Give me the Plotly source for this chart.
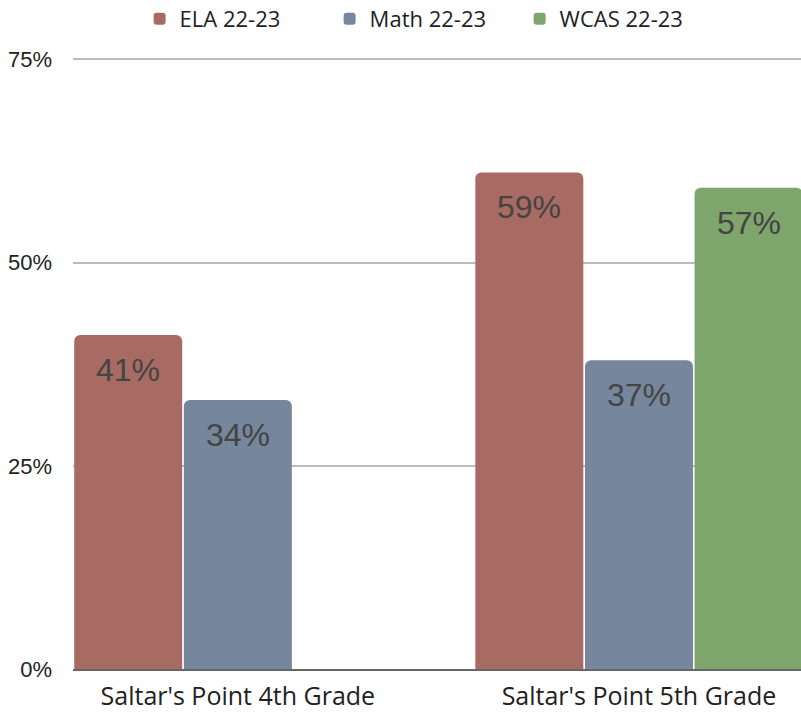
import plotly.graph_objects as go

categories = ["Saltar's Point 4th Grade", "Saltar's Point 5th Grade"]
series_names = ["ELA 22-23", "Math 22-23", "WCAS 22-23"]
# bar heights (percent)
ela_values = [41.1, 61.1]
math_values = [33.1, 38.0]
wcas_values = [None, 59.2]
# printed labels
ela_labels = ["41%", "59%"]
math_labels = ["34%", "37%"]
wcas_labels = [None, "57%"]
y_ticks = [0, 25, 50, 75]
y_tick_labels = ["0%", "25%", "50%", "75%"]

colors = ["#a86b63", "#76869d", "#7da56c"]
series_values = [ela_values, math_values, wcas_values]
series_labels = [ela_labels, math_labels, wcas_labels]

fig = go.Figure()
for name, vals, col in zip(series_names, series_values, colors):
    fig.add_trace(go.Bar(x=categories, y=vals, name=name, marker=dict(color=col, line=dict(width=0))))

annotations = []
for i, (vals, labs) in enumerate(zip(series_values, series_labels)):
    for cat, v, lab in zip(categories, vals, labs):
        if v is None:
            continue
        annotations.append(dict(x=cat, y=v, xref="x", yref="y", text=lab, showarrow=False,
                                xshift=(i - 1) * 110, yshift=-35, yanchor="middle",
                                font=dict(family="Liberation Sans", size=32, color="#444444")))

fig.update_layout(
    width=801, height=717,
    margin=dict(l=73, r=0, t=57, b=48, autoexpand=False),
    barmode="group", bargap=0.18, bargroupgap=0.015, barcornerradius=6,
    plot_bgcolor="white", paper_bgcolor="white",
    legend=dict(orientation="h", x=0.483, xanchor="center", y=1.062, yanchor="middle",
                font=dict(family="Open Sans", size=22, color="#222222"),
                itemwidth=30, entrywidth=145),
    annotations=annotations,
    showlegend=True,
)
fig.update_xaxes(range=[-0.411, 1.404], showgrid=False, showline=True, linecolor="#666666", linewidth=2,
                 ticks="", ticklabelstandoff=4,
                 tickfont=dict(family="Open Sans", size=25, color="#222222"))
fig.update_yaxes(range=[0, 75.3], tickvals=y_ticks, ticktext=y_tick_labels, showgrid=True,
                 gridcolor="#bbbbbb", gridwidth=1.5, zeroline=False, showline=False,
                 ticks="", ticklabelstandoff=20,
                 tickfont=dict(family="Liberation Sans", size=22, color="#222222"))

fig.write_html("out.html", config={"displayModeBar": False},
               post_script="document.body.style.margin='0';document.body.style.overflow='hidden';")
